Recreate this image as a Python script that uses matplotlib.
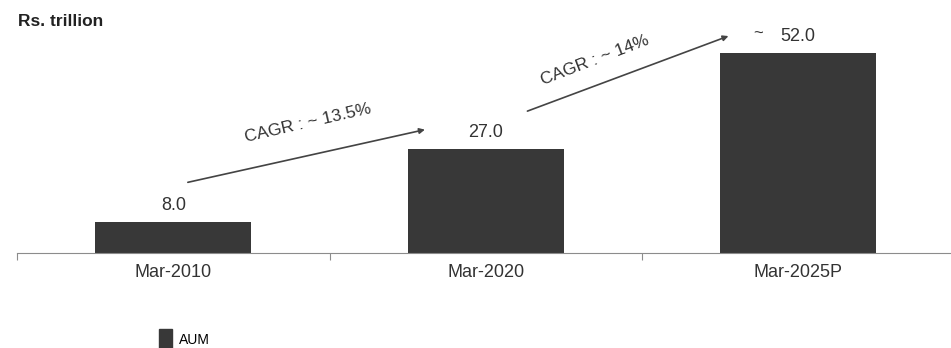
import matplotlib
matplotlib.use("Agg")
import matplotlib.pyplot as plt
from matplotlib.patches import Patch

plt.rcParams['font.family'] = ['Liberation Sans', 'DejaVu Sans']

# data
periods = ["Mar-2010", "Mar-2020", "Mar-2025P"]
aum = [8.0, 27.0, 52.0]
cagr_labels = ["CAGR : ~ 13.5%", "CAGR : ~ 14%"]

bar_color = "#383838"
text_color = "#333333"

fig = plt.figure(figsize=(9.51, 3.48), dpi=100)
ax = fig.add_axes([17/951, 95/348, 937.5/951, 231/348])

x = list(range(len(periods)))
ax.bar(x, aum, width=0.5, color=bar_color)
ax.set_xlim(-0.5, 2.5)
ax.set_ylim(0, 60)

for xi, v in zip(x, aum):
    ax.text(xi, v + 2.0, f"{v:.1f}", ha="center", va="bottom", fontsize=13, color=text_color)
ax.text(1.87, 56.8, "~", ha="center", va="center", fontsize=12, color=text_color)

# axis styling
for s in ["top", "right", "left"]:
    ax.spines[s].set_visible(False)
ax.spines["bottom"].set_color("#8c8c8c")
ax.set_yticks([])
ax.set_xticks([-0.5, 0.5, 1.5, 2.5])
ax.set_xticklabels([])
ax.tick_params(axis="x", length=5, color="#8c8c8c")
ax.set_xticks(x, minor=True)
ax.set_xticklabels(periods, minor=True, fontsize=13, color=text_color)
ax.tick_params(axis="x", which="minor", length=0, pad=8)

# CAGR arrows
ax.annotate("", xy=(0.814, 32.2), xytext=(0.038, 18.2),
            arrowprops=dict(arrowstyle="-|>", color="#444444", lw=1.2, mutation_scale=8))
ax.annotate("", xy=(1.785, 56.6), xytext=(1.125, 36.6),
            arrowprops=dict(arrowstyle="-|>", color="#444444", lw=1.2, mutation_scale=8))
ax.text(0.43, 33.8, cagr_labels[0], ha="center", va="center", rotation=13,
        fontsize=12.5, color=text_color)
ax.text(1.35, 50.1, cagr_labels[1], ha="center", va="center", rotation=21,
        fontsize=12.5, color=text_color)

fig.text(18/951, 1 - 22/348, "Rs. trillion", fontsize=12.5, fontweight="bold",
         color="#222222", ha="left", va="center")

fig.legend(handles=[Patch(color=bar_color, label="AUM")], loc="center left",
           bbox_to_anchor=(146/951, 1 - 340/348), frameon=False, fontsize=10,
           handlelength=1.0, handleheight=2.0, handletextpad=0.5)

fig.savefig("out.png", dpi=100)
